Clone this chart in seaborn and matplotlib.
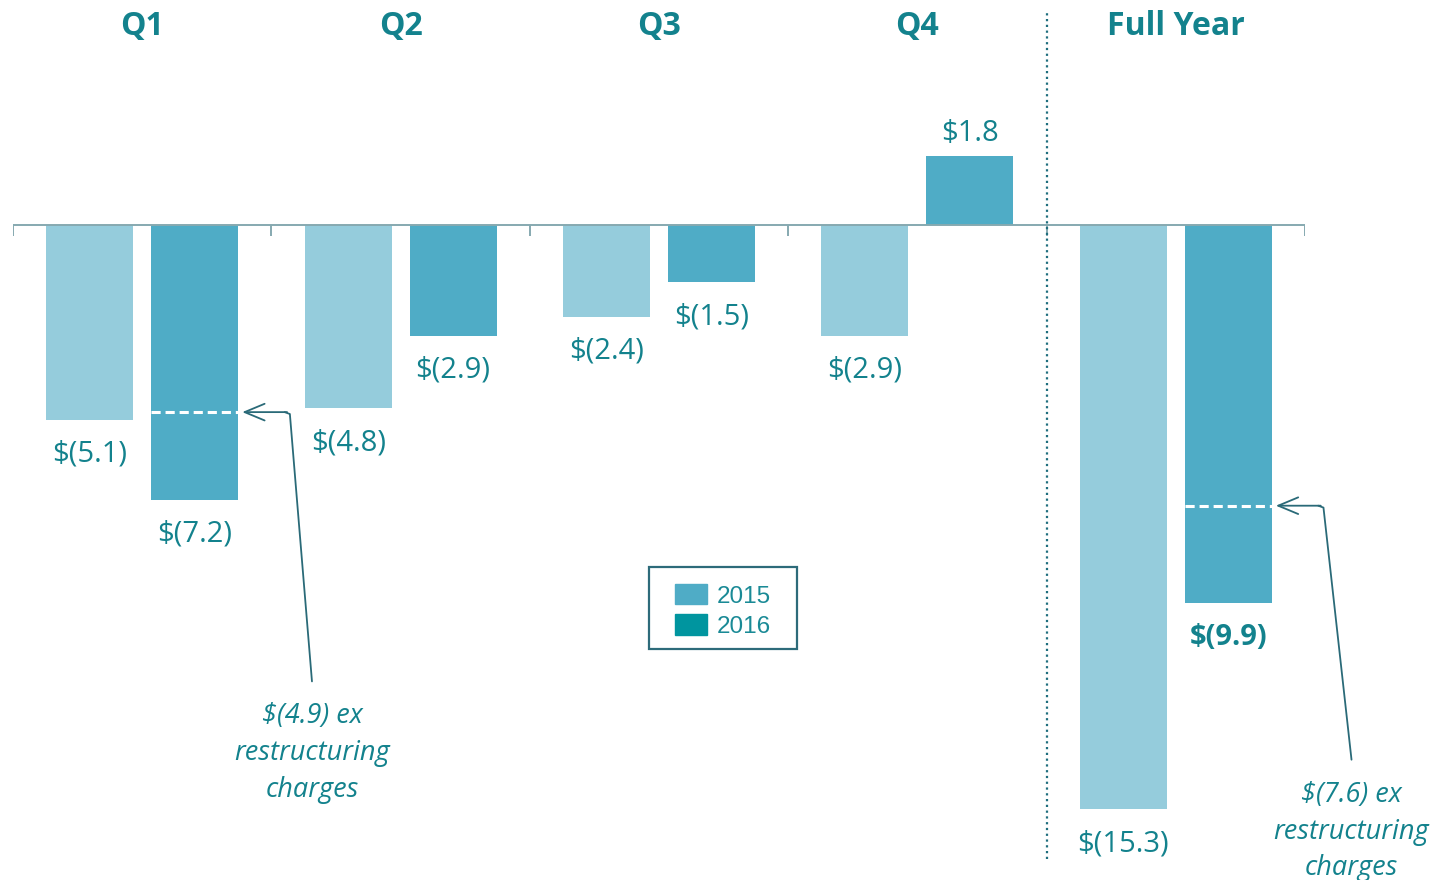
import pandas as pd
import matplotlib.pyplot as plt
import matplotlib.patches as mpatches
import seaborn as sns

# Data
periods = ['Q1', 'Q2', 'Q3', 'Q4', 'Full Year']
years = ['2015', '2016']
values_2015 = [-5.1, -4.8, -2.4, -2.9, -15.3]
values_2016 = [-7.2, -2.9, -1.5, 1.8, -9.9]
# ex-restructuring level marked with a dashed line (Q1 and Full Year, 2016)
ex_restructuring = {'Q1': -4.9, 'Full Year': -7.35}
ex_labels = {'Q1': '$(4.9) ex\nrestructuring\ncharges',
             'Full Year': '$(7.6) ex\nrestructuring\ncharges'}

bar_colors = {'2015': '#95CCDC', '2016': '#4FACC6'}
legend_colors = {'2015': '#4FACC6', '2016': '#00959F'}
text_color = '#13828D'
arrow_color = '#2A6A78'

df = pd.DataFrame({
    'period': periods * 2,
    'year': ['2015'] * len(periods) + ['2016'] * len(periods),
    'value': values_2015 + values_2016,
})

sns.set_theme(style='white')
plt.rcParams['font.family'] = ['Open Sans', 'DejaVu Sans']

fig = plt.figure(figsize=(14.36, 8.8), dpi=100)
ax = fig.add_axes([13 / 1436, 0, 1292 / 1436, 1])

sns.barplot(data=df, x='period', y='value', hue='year', order=periods,
            hue_order=years, palette=bar_colors, width=0.812, gap=0.17,
            saturation=1, linewidth=0, legend=False, ax=ax)

ax.set_xlim(-0.5, 4.5)
ax.set_ylim(-17.15, 5.89)
ax.axis('off')

# baseline with group ticks
ax.hlines(0, -0.5, 4.5, color='#86A9B0', lw=1.4, zorder=3)
for b in [i - 0.5 for i in range(len(periods) + 1)]:
    ax.vlines(b, -0.3, 0, color='#86A9B0', lw=1.4, zorder=3)

# separator before full year
ax.vlines(3.5, -16.6, 5.6, color='#1F6E7E', lw=1.6, linestyles=(0, (1, 1.6)), zorder=3)

# headers
for i, p in enumerate(periods):
    ax.text(i, 5.2, p, ha='center', va='center', fontsize=23,
            fontweight='bold', color=text_color)

# value labels
for year, cont in zip(years, ax.containers):
    for p, bar in zip(periods, cont):
        v = bar.get_height()
        cx = bar.get_x() + bar.get_width() / 2
        lab = f'${v:.1f}' if v >= 0 else f'$({abs(v):.1f})'
        y = v + 0.6 if v >= 0 else v - 0.9
        bold = (year == '2016' and p == 'Full Year')
        ax.text(cx, y, lab, ha='center', va='center', fontsize=21,
                fontweight='bold' if bold else 'normal', color=text_color)

# ex-restructuring markers
cont16 = ax.containers[1]
text_pos = {'Q1': (0.657, -12.5), 'Full Year': (4.68, -14.55)}
for p, level in ex_restructuring.items():
    bar = cont16[periods.index(p)]
    x0, x1 = bar.get_x(), bar.get_x() + bar.get_width()
    ax.hlines(level, x0, x1, color='white', lw=2.2, linestyles=(0, (3, 1.6)), zorder=4)
    tx, ty = text_pos[p]
    elbow = x1 + 0.2
    ax.plot([tx, elbow, elbow - 0.02], [ty + 0.55, level - 0.05, level],
            color=arrow_color, lw=1.3, zorder=4, clip_on=False)
    ax.annotate('', xy=(x1 + 0.005, level), xytext=(elbow, level),
                arrowprops=dict(arrowstyle='->,head_length=1.2,head_width=0.5',
                                color=arrow_color, lw=1.3), zorder=4)
    ax.text(tx, ty, ex_labels[p], ha='center', va='top', fontsize=19.5,
            style='italic', color=text_color, linespacing=1.42)

# legend
handles = [mpatches.Patch(color=legend_colors[y], label=y) for y in years]
leg = fig.legend(handles=handles, loc='center', bbox_to_anchor=(723 / 1436, 1 - 611 / 880),
                 frameon=False, prop={'family': 'Liberation Sans', 'size': 17.5},
                 handlelength=1.35, handleheight=0.9, handletextpad=0.4,
                 labelspacing=0.28, borderpad=0.5, borderaxespad=0)
for t in leg.get_texts():
    t.set_color('#1A8A96')
fig.patches.append(mpatches.Rectangle((649 / 1436, 1 - 649 / 880), 148 / 1436, 82 / 880,
                                      transform=fig.transFigure, fill=False,
                                      edgecolor='#2D6B7A', lw=1.6))

fig.savefig('out.png', dpi=100)
